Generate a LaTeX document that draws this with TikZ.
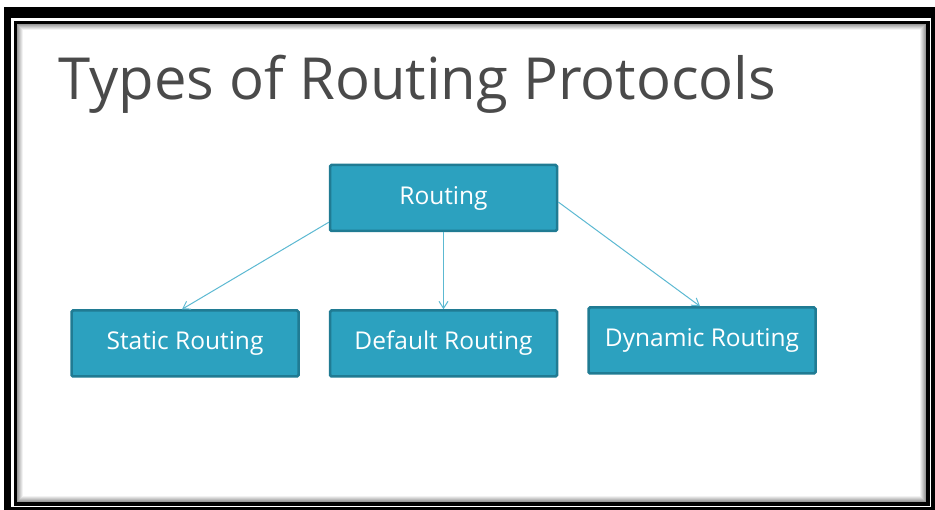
\documentclass[tikz,border=0pt]{standalone}
\usepackage{fontspec}
\setmainfont{Open Sans}
\usetikzlibrary{arrows.meta}

\definecolor{boxfill}{HTML}{2CA1BF}
\definecolor{boxline}{HTML}{207B93}
\definecolor{linkblue}{HTML}{5CB9D2}
\definecolor{titlegray}{HTML}{4A4A4A}

\tikzset{
  protobox/.style={draw=boxline,fill=boxfill,line width=2.5pt,rounded corners=1.5pt,
    minimum width=227pt,minimum height=66pt,text=white,font=\fontsize{24.5}{28}\selectfont},
  link/.style={draw=linkblue,line width=1pt,-{Straight Barb[length=7pt,width=9pt]}}
}

\begin{document}
\begin{tikzpicture}[x=1pt,y=-1pt]
                \useasboundingbox (0,0) rectangle (935,510);
                \fill[white] (0,0) rectangle (935,510);

                % frame
                \fill[black] (4,7) rectangle (935,510);
                \fill[white] (11,18) rectangle (931,507);
                \fill[black] (14,21) rectangle (930,506);
                \fill[white] (17,24) rectangle (926,502);
                \foreach \i in {0,...,5}
                    \draw[black!\fpeval{40-7*\i},line width=1pt] (17.5+\i,24.5+\i) rectangle (925.5-\i,501.5-\i);

                % title
                \node[anchor=base west,text=titlegray,font=\fontsize{58}{62}\selectfont] (title) at (55,100) {Types of Routing Protocols};

                % boxes
                \coordinate (R) at (443.5,198);
                \coordinate (S) at (185,343.5);
                \coordinate (D) at (443.5,343.5);
                \coordinate (Y) at (702,340.5);

                \node[protobox] (routing) at (R) {Routing};
                \node[protobox] (static) at (S) {Static Routing};
                \node[protobox] (default) at (D) {Default Routing};
                \node[protobox] (dynamic) at (Y) {Dynamic Routing};

                % links
                \draw[link] (routing.south west) ++(0,-10) -- ([xshift=-3pt]static.north);
                \draw[link] (routing.south) -- (default.north);
                \draw[link] (routing.east) ++(0,4) -- ([xshift=-2pt]dynamic.north);
\end{tikzpicture}
\end{document}
